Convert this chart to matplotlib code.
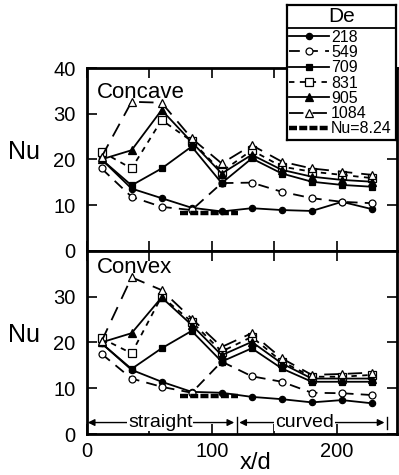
import matplotlib
matplotlib.use("Agg")
import matplotlib.pyplot as plt
from matplotlib.lines import Line2D

plt.rcParams['font.family'] = ['Liberation Sans', 'DejaVu Sans']

# x/d positions of the measuring stations
xd = [12, 36, 60, 84, 108, 132, 156, 180, 204, 228]

# concave wall
cc_218 = [20.0, 13.6, 11.5, 9.4, 8.6, 9.3, 8.9, 8.7, 10.7, 9.1]
cc_549 = [18.0, 11.8, 9.6, 8.9, 14.8, 14.9, 12.9, 11.5, 10.7, 10.4]
cc_709 = [20.0, 14.3, 18.0, 22.8, 14.8, 20.2, 16.9, 15.1, 14.4, 14.0]
cc_831 = [21.7, 18.0, 28.6, 24.0, 17.3, 22.0, 18.4, 17.3, 16.6, 15.9]
cc_905 = [20.0, 22.0, 30.8, 23.8, 16.9, 21.0, 17.7, 16.2, 15.5, 15.1]
cc_1084 = [20.5, 32.6, 32.4, 24.6, 19.1, 23.1, 19.5, 18.0, 17.3, 16.6]

# convex wall
cv_218 = [19.8, 14.0, 11.4, 9.2, 9.0, 8.1, 7.6, 6.9, 7.4, 6.7]
cv_549 = [17.5, 12.1, 10.3, 9.0, 15.8, 12.6, 11.4, 9.0, 8.9, 8.5]
cv_709 = [19.8, 14.2, 18.7, 22.5, 15.8, 18.7, 14.3, 11.4, 11.4, 11.4]
cv_831 = [20.9, 17.6, 30.0, 24.5, 18.0, 21.2, 15.8, 12.5, 12.5, 12.9]
cv_905 = [20.0, 22.0, 29.8, 23.8, 17.2, 20.1, 15.4, 12.1, 12.1, 12.1]
cv_1084 = [20.2, 34.2, 31.4, 25.2, 19.0, 22.0, 16.5, 12.9, 13.1, 13.4]

# fully developed value
nu_fd = 8.24
nu_fd_x = [75, 121]

labels = ['218', '549', '709', '831', '905', '1084']
styles = [
    dict(marker='o', ms=4.5, mfc='k', ls='-'),
    dict(marker='o', ms=5, mfc='white', ls=(0, (6, 4))),
    dict(marker='s', ms=5, mfc='k', ls='-'),
    dict(marker='s', ms=5.5, mfc='white', ls=(0, (3, 3))),
    dict(marker='^', ms=5.5, mfc='k', ls='-'),
    dict(marker='^', ms=5.5, mfc='white', ls=(0, (8, 5))),
]

fig = plt.figure(figsize=(3.99, 4.75), dpi=100)
L, R = 86.5 / 399, 397 / 399
ax1 = fig.add_axes([L, 1 - 250.7 / 475, R - L, 182.7 / 475])
ax2 = fig.add_axes([L, 1 - 434 / 475, R - L, 183.3 / 475])

def draw(ax, series, name, name_y):
    for ys, st in zip(series, styles):
        ax.plot(xd, ys, color='k', lw=1.3, mec='k', mew=0.9, **st)
    ax.plot(nu_fd_x, [nu_fd, nu_fd], color='k', lw=3.2, ls=(0, (1.8, 0.5)))
    ax.set_xlim(0, 248)
    ax.set_ylim(0, 40)
    ax.set_xticks([0, 50, 100, 150, 200])
    ax.set_yticks([0, 10, 20, 30, 40])
    ax.tick_params(direction='in', top=True, right=True, length=7, width=1.2,
                   labelsize=14.5, pad=6)
    for s in ax.spines.values():
        s.set_linewidth(2.0)
    ax.text(0.035, name_y, name, transform=ax.transAxes, fontsize=16, va='center')
    ax.text(-0.2, 0.54, 'Nu', transform=ax.transAxes, fontsize=18,
            ha='center', va='center')

draw(ax1, [cc_218, cc_549, cc_709, cc_831, cc_905, cc_1084], 'Concave', 0.865)
draw(ax2, [cv_218, cv_549, cv_709, cv_831, cv_905, cv_1084], 'Convex', 0.91)

ax1.set_xticklabels([])
ax2.set_xticklabels(['0', '', '100', '', '200'])
ax2.set_yticklabels(['0', '10', '20', '30', ''])
ax1.tick_params(axis='y', pad=8)
ax2.tick_params(axis='y', pad=8)
ax2.text(0.546, -0.158, 'x/d', transform=ax2.transAxes, fontsize=17,
         ha='center', va='center')

# straight / curved section markers
arr = dict(arrowstyle='<|-|>', color='k', lw=1.0, mutation_scale=10,
           shrinkA=0, shrinkB=0)
ax2.annotate('', xy=(1, 2.5), xytext=(118, 2.5), arrowprops=arr)
ax2.annotate('', xy=(122, 2.5), xytext=(238, 2.5), arrowprops=arr)
ax2.plot([120, 120], [0, 3.8], color='k', lw=1.0)
ax2.plot([240, 240], [1.2, 3.8], color='k', lw=1.0)
ax2.text(59, 2.6, 'straight', fontsize=14, ha='center', va='center',
         bbox=dict(fc='white', ec='none', pad=0.5))
ax2.text(174, 2.6, 'curved', fontsize=14, ha='center', va='center',
         bbox=dict(fc='white', ec='none', pad=0.5))

# legend box
lg = fig.add_axes([287 / 399, 1 - 140 / 475, 109 / 399, 135 / 475], zorder=5)
lg.set_xlim(0, 1)
lg.set_ylim(0, 1)
lg.set_xticks([])
lg.set_yticks([])
lg.patch.set_facecolor('white')
for s in lg.spines.values():
    s.set_linewidth(1.6)
lg.axhline((140 - 28) / 135, color='k', lw=1.3)
lg.text(0.5, (140 - 17) / 135, 'De', fontsize=15, ha='center', va='center')
handles = [Line2D([], [], color='k', lw=1.3, mec='k', mew=0.9, **st) for st in styles]
handles.append(Line2D([], [], color='k', lw=3.2, ls=(0, (1.8, 0.5))))
lg.legend(handles, labels + ['Nu=8.24'], loc='upper left', bbox_to_anchor=(0.0, 0.83),
          frameon=False, fontsize=11.5, handlelength=2.5, handletextpad=0.15,
          labelspacing=0.02, borderaxespad=0, borderpad=0.1)

fig.savefig('out.png', dpi=100)
